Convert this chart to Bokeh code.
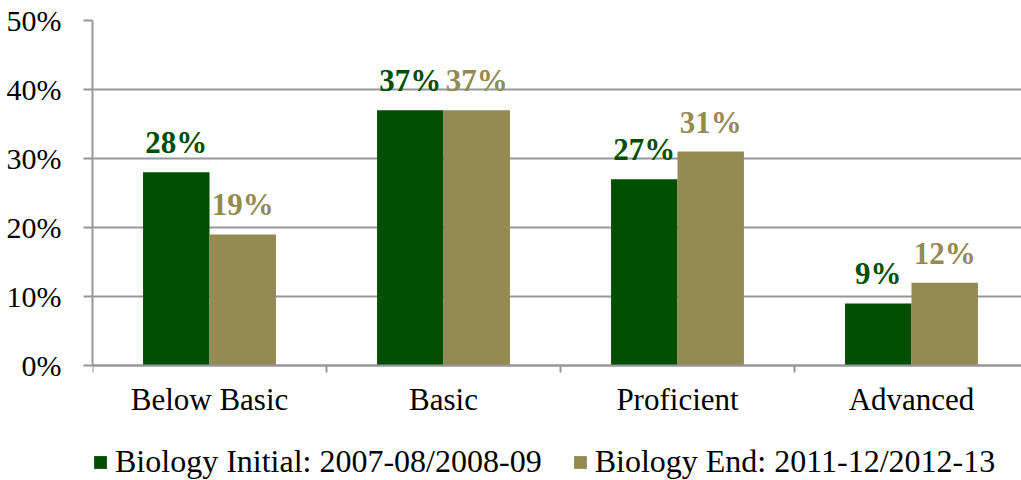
import numpy as np
from bokeh.plotting import figure
from bokeh.models import (ColumnDataSource, Range1d, FixedTicker, PrintfTickFormatter,
                          LabelSet, Legend, LegendItem)
from bokeh.embed import file_html
from bokeh.resources import INLINE

categories = ["Below Basic", "Basic", "Proficient", "Advanced"]
initial_vals = [28, 37, 27, 9]
end_vals = [19, 37, 31, 12]
series_names = ["Biology Initial: 2007-08/2008-09", "Biology End: 2011-12/2012-13"]
y_ticks = [0, 10, 20, 30, 40, 50]

GREEN = "#004F00"
OLIVE = "#948A54"
GRID = "#979797"
FONT = "Liberation Serif"

bar_w = 0.284
idx = np.arange(len(categories)) + 0.5

src1 = ColumnDataSource(dict(x=idx - bar_w / 2, top=initial_vals,
                             lab=[f"{v}%" for v in initial_vals]))
src2 = ColumnDataSource(dict(x=idx + bar_w / 2, top=end_vals,
                             lab=[f"{v}%" for v in end_vals]))

# plotting area: 0..50% occupies 345px; the frame extends below it to hold the legend
value_px = 345
frame_h = 460
y_start = -(frame_h - value_px) * 50 / value_px

p = figure(output_backend="svg", toolbar_location=None,
           frame_width=929, frame_height=frame_h,
           min_border_left=92, min_border_right=0, min_border_top=20, min_border_bottom=0,
           x_range=Range1d(0, 929 / 234), y_range=Range1d(y_start, 50))
p.outline_line_color = None
p.background_fill_color = "white"

r1 = p.vbar(x="x", top="top", width=bar_w, source=src1, fill_color=GREEN, line_color=None)
r2 = p.vbar(x="x", top="top", width=bar_w, source=src2, fill_color=OLIVE, line_color=None)

for src, col in ((src1, GREEN), (src2, OLIVE)):
    p.add_layout(LabelSet(x="x", y="top", text="lab", source=src, y_offset=19,
                          text_align="center", text_baseline="alphabetic",
                          text_font=FONT, text_font_style="bold",
                          text_font_size="31px", text_color=col))

# x axis at 0%
p.xaxis.fixed_location = 0
p.xaxis.ticker = FixedTicker(ticks=list(idx), minor_ticks=list(range(len(categories) + 1)))
p.xaxis.major_label_overrides = {float(v): c for v, c in zip(idx, categories)}
p.xaxis.major_tick_out = 0
p.xaxis.major_tick_in = 0
p.xaxis.minor_tick_out = 7
p.xaxis.minor_tick_in = 0
p.xaxis.minor_tick_line_color = GRID
p.xaxis.minor_tick_line_width = 2
p.xaxis.axis_line_color = GRID
p.xaxis.axis_line_width = 2
p.xaxis.major_label_text_font = FONT
p.xaxis.major_label_text_font_size = "31px"
p.xaxis.major_label_text_color = "black"
p.xaxis.major_label_standoff = 9

# y axis
p.yaxis.bounds = (0, 50)
p.yaxis.ticker = FixedTicker(ticks=y_ticks, minor_ticks=[])
p.yaxis.formatter = PrintfTickFormatter(format="%d%%")
p.yaxis.major_tick_out = 9
p.yaxis.major_tick_in = 0
p.yaxis.major_tick_line_color = GRID
p.yaxis.major_tick_line_width = 2
p.yaxis.axis_line_color = GRID
p.yaxis.axis_line_width = 2
p.yaxis.major_label_text_font = FONT
p.yaxis.major_label_text_font_size = "30px"
p.yaxis.major_label_text_color = "black"
p.yaxis.major_label_standoff = 22

p.xgrid.grid_line_color = None
p.ygrid.grid_line_color = GRID
p.ygrid.grid_line_width = 2

legend = Legend(items=[LegendItem(label=series_names[0], renderers=[r1]),
                       LegendItem(label=series_names[1], renderers=[r2])],
                orientation="horizontal", location=(0, 0),
                label_text_font=FONT, label_text_font_size="32px",
                label_text_color="black",
                glyph_width=16, glyph_height=16, label_standoff=7, spacing=30,
                padding=0, margin=0, border_line_color=None,
                background_fill_alpha=0)
p.add_layout(legend, "center")

open("out.html", "w").write(file_html(p, INLINE))
